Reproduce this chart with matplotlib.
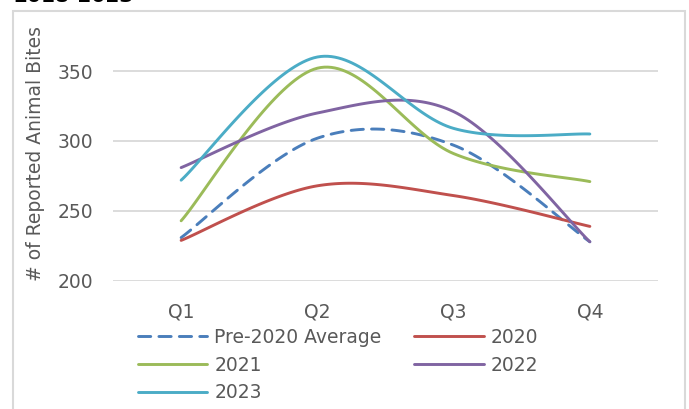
import numpy as np
import matplotlib.pyplot as plt
from matplotlib.patches import Rectangle

plt.rcParams['font.family'] = ['DejaVu Sans']

quarters = ['Q1', 'Q2', 'Q3', 'Q4']
pre_2020 = [231, 302, 297, 228]
y2020 = [229, 268, 261, 239]
y2021 = [243, 352, 291, 271]
y2022 = [281, 320, 321, 228]
y2023 = [272, 360, 309, 305]

series = [
    ('Pre-2020 Average', pre_2020, '#4a7ebb', '--'),
    ('2020', y2020, '#c0504d', '-'),
    ('2021', y2021, '#9bbb59', '-'),
    ('2022', y2022, '#8064a2', '-'),
    ('2023', y2023, '#4bacc6', '-'),
]


def smooth(xs, ys, n=40):
    # excel style smoothed line: cubic bezier with catmull-rom tangents
    p = np.column_stack([xs, ys]).astype(float)
    ext = np.vstack([p[0], p, p[-1]])
    out = []
    t = np.linspace(0, 1, n)[:, None]
    for i in range(len(p) - 1):
        p0, p3 = p[i], p[i + 1]
        c1 = p0 + (ext[i + 2] - ext[i]) / 6.
        c2 = p3 - (ext[i + 3] - ext[i + 1]) / 6.
        seg = ((1 - t)**3 * p0 + 3 * (1 - t)**2 * t * c1
               + 3 * (1 - t) * t**2 * c2 + t**3 * p3)
        out.append(seg if i == 0 else seg[1:])
    out = np.vstack(out)
    return out[:, 0], out[:, 1]


fig = plt.figure(figsize=(6.89, 4.09), dpi=100)
W, H = 689., 409.
grey = '#595959'
fs = 13.5

# chart frame and the cropped title above it
fig.patches.append(Rectangle((13 / W, -0.1), 672 / W, 1.1 - 11 / H,
                             transform=fig.transFigure, fill=False,
                             edgecolor='#d9d9d9', lw=1.5))
fig.text(13 / W, 1 - 2 / H, '2018-2023', fontsize=14.5, fontweight='bold',
         va='baseline', ha='left', color='#000000')

ax = fig.add_axes([113 / W, 128 / H, 545 / W, 238 / H])
x = np.arange(len(quarters))
handles = {}
for label, vals, color, ls in series:
    sx, sy = smooth(x, vals)
    if ls == '--':
        line, = ax.plot(sx, sy, color=color, lw=2.1, dashes=(4.2, 2.8),
                        dash_capstyle='round', label=label)
    else:
        line, = ax.plot(sx, sy, color=color, lw=2.1, solid_capstyle='round',
                        label=label)
    handles[label] = line

ax.set_xlim(-0.5, len(quarters) - 0.5)
ax.set_ylim(200, 370)
ax.set_yticks([200, 250, 300, 350])
ax.set_xticks(x)
ax.set_xticklabels(quarters)
ax.grid(axis='y', color='#d9d9d9', lw=1.3)
ax.set_axisbelow(True)
for s in ax.spines.values():
    s.set_visible(False)
ax.tick_params(length=0, labelsize=fs, colors=grey)
ax.tick_params(axis='y', pad=14)
ax.tick_params(axis='x', pad=15.5)
ax.set_ylabel('# of Reported Animal Bites', fontsize=fs, color=grey,
              labelpad=9)
ax.yaxis.label.set_y(0.535)

order = ['Pre-2020 Average', '2021', '2023', '2020', '2022']
leg = fig.legend([handles[k] for k in order], order, ncol=2,
                 loc='upper left', bbox_to_anchor=(138 / W, 1 - 328 / H),
                 frameon=False, fontsize=fs, handlelength=3.7,
                 handletextpad=0.37, columnspacing=1.74, labelspacing=0.46,
                 borderaxespad=0, borderpad=0)
for t in leg.get_texts():
    t.set_color(grey)

fig.savefig('out.png', dpi=100)
